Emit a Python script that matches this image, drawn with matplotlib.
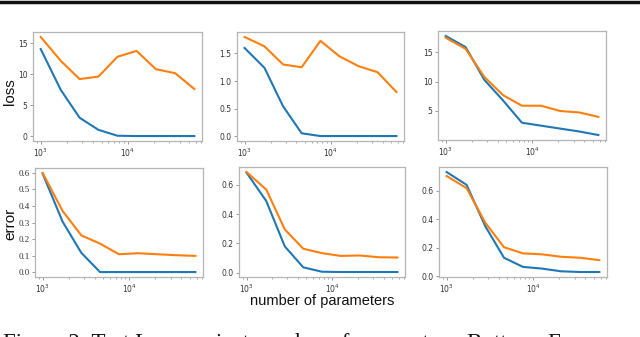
import matplotlib
matplotlib.use("Agg")
import matplotlib.pyplot as plt
from matplotlib.lines import Line2D

# number of parameters (x axis, shared by all panels)
n_params = [1000, 1700, 2800, 4600, 7600, 12600, 21000, 35000, 58000]

# top row: loss
loss_a_train = [14.1, 7.5, 3.0, 1.05, 0.1, 0.05, 0.05, 0.05, 0.05]
loss_a_test = [16.05, 12.2, 9.25, 9.65, 12.85, 13.8, 10.85, 10.2, 7.65]
loss_b_train = [1.60, 1.24, 0.54, 0.05, 0.0, 0.0, 0.0, 0.0, 0.0]
loss_b_test = [1.80, 1.63, 1.30, 1.25, 1.73, 1.45, 1.27, 1.16, 0.80]
loss_c_train = [17.8, 15.9, 10.3, 6.8, 3.0, 2.5, 2.0, 1.5, 0.9]
loss_c_test = [17.5, 15.6, 10.8, 7.7, 5.9, 5.9, 5.0, 4.75, 4.0]

# bottom row: error
err_a_train = [0.596, 0.305, 0.116, 0.0, 0.0, 0.0, 0.0, 0.0, 0.0]
err_a_test = [0.600, 0.370, 0.222, 0.172, 0.108, 0.114, 0.108, 0.102, 0.098]
err_b_train = [0.684, 0.49, 0.18, 0.037, 0.007, 0.005, 0.005, 0.005, 0.005]
err_b_test = [0.688, 0.568, 0.296, 0.164, 0.134, 0.115, 0.118, 0.106, 0.104]
err_c_train = [0.733, 0.643, 0.352, 0.131, 0.067, 0.055, 0.036, 0.031, 0.031]
err_c_test = [0.705, 0.620, 0.376, 0.205, 0.162, 0.155, 0.138, 0.131, 0.114]

panels = [
    (loss_a_train, loss_a_test),
    (loss_b_train, loss_b_test),
    (loss_c_train, loss_c_test),
    (err_a_train, err_a_test),
    (err_b_train, err_b_test),
    (err_c_train, err_c_test),
]

# axes rectangles in figure fraction [left, bottom, width, height]
rects = [
    [0.0516, 0.5816, 0.264, 0.3234],
    [0.3703, 0.5816, 0.261, 0.3234],
    [0.6844, 0.5846, 0.2625, 0.3234],
    [0.0547, 0.1780, 0.2625, 0.3234],
    [0.3734, 0.1780, 0.2594, 0.3264],
    [0.6859, 0.1780, 0.2625, 0.3264],
]

fig = plt.figure(figsize=(6.4, 3.37), dpi=100, facecolor="white")

for i, ((train, test), rect) in enumerate(zip(panels, rects)):
    ax = fig.add_axes(rect)
    ax.plot(n_params, train, color="#1f77b4", linewidth=1.5)
    ax.plot(n_params, test, color="#ff7f0e", linewidth=1.5)
    ax.set_xscale("log")
    for spine in ax.spines.values():
        spine.set_color("#b5b5b5")
        spine.set_linewidth(0.9)
    ax.tick_params(axis="both", which="major", labelsize=5.5, length=2.5,
                   width=0.6, colors="#888888", labelcolor="#333333", pad=1.5)
    ax.tick_params(axis="both", which="minor", length=1.5, width=0.5,
                   colors="#888888")
    if i == 3:
        for lbl in ax.get_yticklabels():
            lbl.set_family("Liberation Serif")
            lbl.set_fontsize(6.5)

fig.text(0.0155, 0.727, "loss", rotation=90, ha="center", va="center",
         fontsize=11, family="Liberation Sans", color="#111111")
fig.text(0.0155, 0.335, "error", rotation=90, ha="center", va="center",
         fontsize=11, family="Liberation Sans", color="#111111")
fig.text(0.503, 0.108, "number of parameters", ha="center", va="center",
         fontsize=10.5, family="Liberation Sans", color="#111111")

# caption cut off at the bottom edge
fig.text(0.004, 0.012, "Figure 2: Test Loss against number of parameters. Bottom: Error",
         ha="left", va="top", fontsize=16.5, family="Liberation Serif",
         color="#111111")

# thick rule at the top
fig.add_artist(Line2D([0, 1], [0.995, 0.995], color="#111111", linewidth=2.5,
                      transform=fig.transFigure))

fig.savefig("out.png", dpi=100, facecolor="white")
